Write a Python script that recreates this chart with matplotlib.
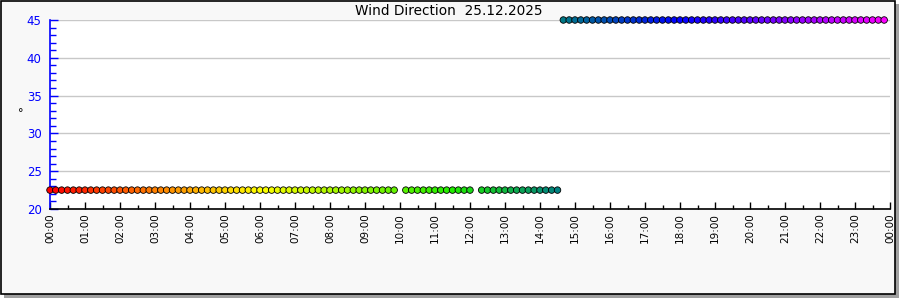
import numpy as np
import matplotlib
matplotlib.use('Agg')
import matplotlib.pyplot as plt
from matplotlib.colors import LinearSegmentedColormap
from matplotlib.patches import Rectangle

# observation times (HH:MM), 25.12.2025
times = [
    '00:00', '00:10', '00:20', '00:30', '00:40', '00:50',
    '01:00', '01:10', '01:20', '01:30', '01:40', '01:50',
    '02:00', '02:10', '02:20', '02:30', '02:40', '02:50',
    '03:00', '03:10', '03:20', '03:30', '03:40', '03:50',
    '04:00', '04:10', '04:20', '04:30', '04:40', '04:50',
    '05:00', '05:10', '05:20', '05:30', '05:40', '05:50',
    '06:00', '06:10', '06:20', '06:30', '06:40', '06:50',
    '07:00', '07:10', '07:20', '07:30', '07:40', '07:50',
    '08:00', '08:10', '08:20', '08:30', '08:40', '08:50',
    '09:00', '09:10', '09:20', '09:30', '09:40', '09:50',
    '10:10', '10:20', '10:30', '10:40', '10:50',
    '11:00', '11:10', '11:20', '11:30', '11:40', '11:50',
    '12:00', '12:20', '12:30', '12:40', '12:50',
    '13:00', '13:10', '13:20', '13:30', '13:40', '13:50',
    '14:00', '14:10', '14:20', '14:30',
    '14:40', '14:50',
    '15:00', '15:10', '15:20', '15:30', '15:40', '15:50',
    '16:00', '16:10', '16:20', '16:30', '16:40', '16:50',
    '17:00', '17:10', '17:20', '17:30', '17:40', '17:50',
    '18:00', '18:10', '18:20', '18:30', '18:40', '18:50',
    '19:00', '19:10', '19:20', '19:30', '19:40', '19:50',
    '20:00', '20:10', '20:20', '20:30', '20:40', '20:50',
    '21:00', '21:10', '21:20', '21:30', '21:40', '21:50',
    '22:00', '22:10', '22:20', '22:30', '22:40', '22:50',
    '23:00', '23:10', '23:20', '23:30', '23:40', '23:50',
]
# wind direction in degrees
direction = [22.5] * 86 + [45.0] * 56

hour_labels = ['%02d:00' % (h % 24) for h in range(25)]

hours = np.array([int(t[:2]) + int(t[3:]) / 60 for t in times])

# time-of-day colour wheel
cmap = LinearSegmentedColormap.from_list('day', [
    (0.0, '#ff0000'), (6 / 24, '#ffff00'), (11.5 / 24, '#20ee00'),
    (14.5 / 24, '#008080'), (18 / 24, '#0000ff'), (1.0, '#ff00ff')])

fig = plt.figure(figsize=(9, 3), dpi=100)
fig.patch.set_facecolor('white')
fig.patches.append(Rectangle((4 / 900, 2 / 300), 895 / 900, 294 / 300,
                             transform=fig.transFigure, facecolor='#a0a0a0',
                             edgecolor='none', zorder=-2))
fig.patches.append(Rectangle((0.5 / 900, 6 / 300), 894 / 900, 293.5 / 300,
                             transform=fig.transFigure, facecolor='#f8f8f8',
                             edgecolor='black', linewidth=1.2, zorder=-1))

ax = fig.add_axes([50 / 900, 91 / 300, 840 / 900, 189 / 300])
ax.set_facecolor('white')

ax.scatter(hours, direction, c=hours / 24, cmap=cmap, vmin=0, vmax=1,
           s=22, edgecolors='black', linewidths=0.6, zorder=3, clip_on=False)

ax.set_xlim(0, 24)
ax.set_ylim(20, 45)
ax.set_xticks(range(25))
ax.set_xticklabels(hour_labels, rotation=90, fontsize=7.5)
ax.set_xticks(np.arange(0.5, 24, 1), minor=True)
ax.set_yticks([20, 25, 30, 35, 40, 45])
ax.set_yticks(range(20, 46), minor=True)
ax.tick_params(axis='y', which='major', direction='in', length=6, width=1,
               colors='blue', labelsize=8.5, pad=6)
ax.tick_params(axis='y', which='minor', direction='in', length=4, width=1,
               colors='blue')
ax.tick_params(axis='x', which='major', direction='in', length=5, width=1,
               labelsize=7.5, pad=3)
ax.tick_params(axis='x', which='minor', direction='in', length=3, width=1)

ax.yaxis.grid(True, color='#c8c8c8', linewidth=1)
ax.set_axisbelow(True)
for s in ['top', 'right']:
    ax.spines[s].set_visible(False)
ax.spines['left'].set_color('blue')
ax.spines['left'].set_linewidth(1.2)
ax.spines['bottom'].set_linewidth(1.2)

fig.text(21 / 900, 1 - 113 / 300, '°', ha='center', va='center', fontsize=8)
fig.text(449 / 900, 1 - 11 / 300, 'Wind Direction  25.12.2025',
         ha='center', va='center', fontsize=9.8)

fig.savefig('out.png', dpi=100)
